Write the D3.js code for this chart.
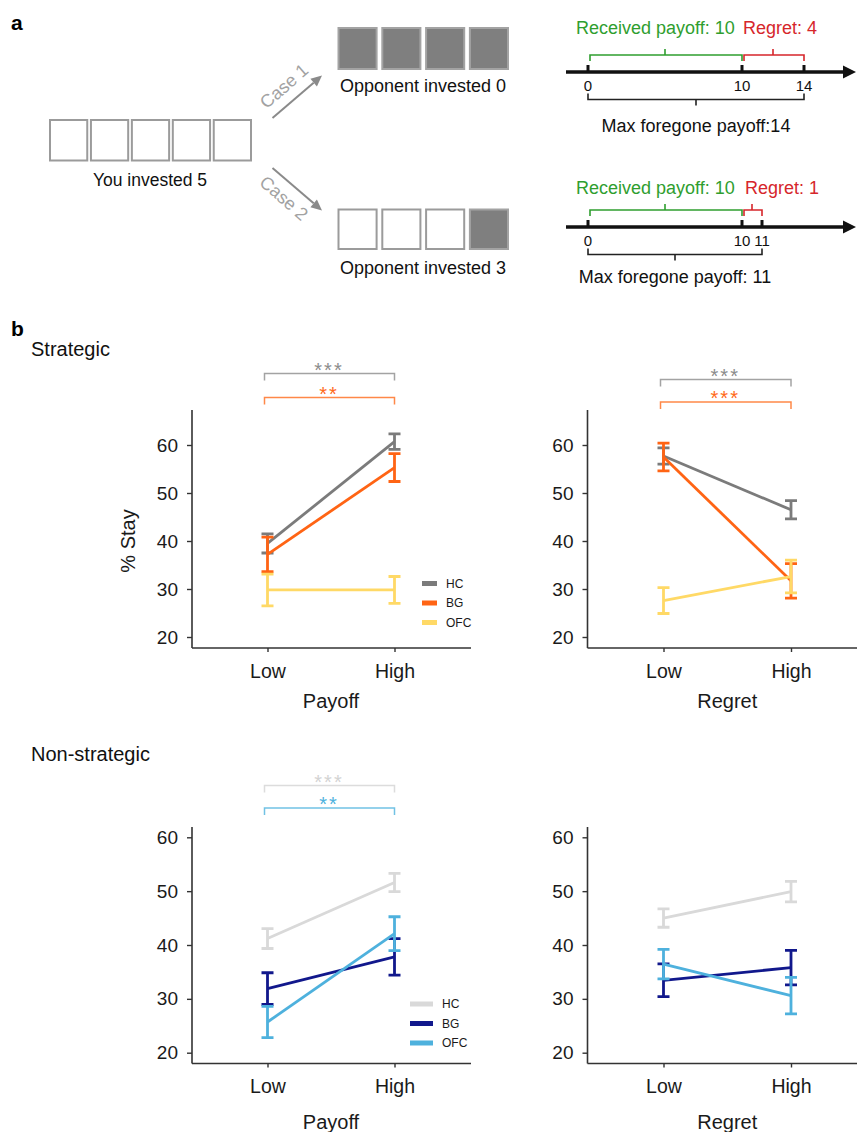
<!DOCTYPE html>
<html>
<head>
<meta charset="utf-8">
<script src="https://cdn.jsdelivr.net/npm/d3@7"></script>
<style>
  body { margin: 0; background: #fff; }
  svg { display: block; font-family: "Liberation Sans", Arial, Helvetica, sans-serif; }
</style>
</head>
<body>
<svg id="fig" width="857" height="1132"></svg>
<script>
// ---------- data ----------
const levels = ["Low", "High"];
const groups = ["HC", "BG", "OFC"];
const yTicks = [20, 30, 40, 50, 60];

// rows: HC, BG, OFC  /  cols: Low, High
const stratPayoffMean = [[39.5, 60.7], [37.2, 55.3], [29.8, 29.8]];
const stratPayoffErr  = [[2.0, 1.6], [3.6, 2.9], [3.3, 2.8]];
const stratRegretMean = [[57.7, 46.5], [57.5, 31.7], [27.6, 32.6]];
const stratRegretErr  = [[1.7, 1.9], [2.9, 3.6], [2.7, 3.4]];
const nonPayoffMean   = [[41.2, 51.6], [31.9, 37.8], [25.7, 42.1]];
const nonPayoffErr    = [[1.85, 1.7], [2.95, 3.4], [2.9, 3.15]];
const nonRegretMean   = [[45.0, 49.9], [33.45, 35.8], [36.45, 30.6]];
const nonRegretErr    = [[1.7, 1.9], [3.05, 3.2], [2.75, 3.4]];

// significance brackets: [stars, group index]
const stratPayoffSig = [["***", 0], ["**", 1]];
const stratRegretSig = [["***", 0], ["***", 1]];
const nonPayoffSig   = [["***", 0], ["**", 2]];

// panel a
const youInvested = 5;
const oppTokens = 4;
const oppInvested = [0, 3];
const received = [10, 10];
const regret = [4, 1];

const stratColors = ["#7b7b7b", "#ff6414", "#ffd966"];
const nonColors = ["#d9d9d9", "#11188c", "#4eb1dd"];
const stratSigColors = ["#8c8c8c", "#ff6a1a"];
const nonSigColors = ["#d3d3d3", "#4eb1dd"];

const svg = d3.select("#fig");
const green = "#2f9e2f", red = "#d6262b";

// ---------- panel a ----------
svg.append("text").attr("x", 11).attr("y", 30).attr("font-size", 21).attr("font-weight", "bold").text("a");

function boxes(n, filledFrom, x0, x1, y0, y1, pad) {
  const xb = d3.scaleBand().domain(d3.range(n)).range([x0, x1]).paddingInner(pad);
  svg.append("g").selectAll("rect").data(d3.range(n)).enter().append("rect")
    .attr("x", d => xb(d)).attr("y", y0)
    .attr("width", xb.bandwidth()).attr("height", y1 - y0)
    .attr("fill", d => d >= filledFrom ? "#7f7f7f" : "#fff")
    .attr("stroke", d => d >= filledFrom ? "#a3a3a3" : "#9b9b9b")
    .attr("stroke-width", 2);
}

boxes(youInvested, youInvested, 50, 251, 120, 160.5, 0.09);
svg.append("text").attr("x", 150).attr("y", 186).attr("text-anchor", "middle")
  .attr("font-size", 17.5).attr("fill", "#111").text(`You invested ${youInvested}`);

const oppLayout = [{ y0: 28, y1: 69, ty: 92 }, { y0: 209.5, y1: 249, ty: 273.5 }];
oppInvested.forEach((inv, i) => {
  const L = oppLayout[i];
  boxes(oppTokens, inv, 338.5, 508, L.y0, L.y1, 0.13);
  svg.append("text").attr("x", 423).attr("y", L.ty).attr("text-anchor", "middle")
    .attr("font-size", 18).attr("fill", "#111").text(`Opponent invested ${inv}`);
});

// case arrows
function arrow(x1, y1, x2, y2, color, width, head, half) {
  const a = Math.atan2(y2 - y1, x2 - x1);
  const bx = x2 - head * Math.cos(a), by = y2 - head * Math.sin(a);
  svg.append("line").attr("x1", x1).attr("y1", y1).attr("x2", bx).attr("y2", by)
    .attr("stroke", color).attr("stroke-width", width);
  const px = -Math.sin(a) * half, py = Math.cos(a) * half;
  svg.append("path").attr("d", `M${x2},${y2}L${bx + px},${by + py}L${bx - px},${by - py}Z`).attr("fill", color);
}
arrow(272.5, 118, 322, 75.5, "#8a8a8a", 2, 11, 5);
arrow(272.5, 168, 322, 210.5, "#8a8a8a", 2, 11, 5);
svg.append("text").attr("transform", "translate(284,86) rotate(-41)").attr("text-anchor", "middle")
  .attr("dy", "0.35em").attr("font-size", 18).attr("fill", "#a2a2a2").text("Case 1");
svg.append("text").attr("transform", "translate(284,198) rotate(41)").attr("text-anchor", "middle")
  .attr("dy", "0.35em").attr("font-size", 18).attr("fill", "#a2a2a2").text("Case 2");

// number lines
const lineLayout = [
  { y: 72, domain: [0, 10, 14], range: [588, 742, 804], recvY: 33.5, regX: 743, maxY: 131.5, sep: "" },
  { y: 227, domain: [0, 10, 11], range: [588, 742, 762], recvY: 193.5, regX: 745, maxY: 282.5, sep: " " }
];
lineLayout.forEach((L, i) => {
  const x = d3.scaleLinear().domain(L.domain).range(L.range);
  const maxPay = received[i] + regret[i];
  const g = svg.append("g");
  arrow(566, L.y, 856, L.y, "#111", 3.5, 13, 6.5);
  g.selectAll(".tk").data(L.domain).enter().append("line")
    .attr("x1", d => x(d)).attr("x2", d => x(d)).attr("y1", L.y - 7).attr("y2", L.y)
    .attr("stroke", "#111").attr("stroke-width", 3);
  g.selectAll(".lb").data(L.domain).enter().append("text")
    .attr("x", d => x(d)).attr("y", L.y + 18.5).attr("text-anchor", "middle")
    .attr("font-size", 15).attr("fill", "#111").text(d => d);
  const brace = (a, b, yb, dir, color) => {
    g.append("path")
      .attr("d", `M${x(a) + (dir > 0 ? 2 : 0)},${yb + 6 * dir}V${yb}H${x(b)}V${yb + 6 * dir}M${(x(a) + x(b)) / 2},${yb}V${yb - 6 * dir}`)
      .attr("fill", "none").attr("stroke", color).attr("stroke-width", 1.6);
  };
  brace(0, received[i], L.y - 17, 1, green);
  brace(received[i], maxPay, L.y - 17, 1, red);
  brace(0, maxPay, L.y + 27.5, -1, "#222");
  g.append("text").attr("x", 576).attr("y", L.recvY).attr("font-size", 18).attr("fill", green)
    .text(`Received payoff: ${received[i]}`);
  g.append("text").attr("x", L.regX).attr("y", L.recvY).attr("font-size", 18).attr("fill", red)
    .text(`Regret: ${regret[i]}`);
  g.append("text").attr("x", (x(0) + x(maxPay)) / 2).attr("y", L.maxY).attr("text-anchor", "middle")
    .attr("font-size", 18).attr("fill", "#111").text(`Max foregone payoff:${L.sep}${maxPay}`);
});

// ---------- panel b ----------
svg.append("text").attr("x", 11).attr("y", 336).attr("font-size", 21).attr("font-weight", "bold").text("b");
svg.append("text").attr("x", 31).attr("y", 355.5).attr("font-size", 20).attr("fill", "#111").text("Strategic");
svg.append("text").attr("x", 31).attr("y", 761).attr("font-size", 20).attr("fill", "#111").text("Non-strategic");

function drawPanel(cfg) {
  const g = svg.append("g");
  const x = d3.scalePoint().domain(levels).range(cfg.xRange);
  const y = d3.scaleLinear().domain([20, 60]).range(cfg.yRange);

  // axes
  g.append("line").attr("x1", cfg.left).attr("x2", cfg.left).attr("y1", cfg.top).attr("y2", cfg.bottom)
    .attr("stroke", "#333").attr("stroke-width", 1.6);
  g.append("line").attr("x1", cfg.left).attr("x2", cfg.right).attr("y1", cfg.bottom).attr("y2", cfg.bottom)
    .attr("stroke", "#333").attr("stroke-width", 1.6);
  const ya = g.append("g").attr("transform", `translate(${cfg.left},0)`)
    .call(d3.axisLeft(y).tickValues(yTicks).tickSize(5).tickPadding(9));
  ya.select(".domain").remove();
  ya.selectAll("line").attr("stroke", "#333").attr("stroke-width", 1.4);
  ya.selectAll("text").attr("font-size", 19).attr("fill", "#1a1a1a").attr("font-family", null);
  const xa = g.append("g").attr("transform", `translate(0,${cfg.bottom})`)
    .call(d3.axisBottom(x).tickSize(4).tickPadding(12));
  xa.select(".domain").remove();
  xa.selectAll("line").attr("stroke", "#333").attr("stroke-width", 1.4);
  xa.selectAll("text").attr("font-size", 19.5).attr("fill", "#1a1a1a").attr("font-family", null);

  g.append("text").attr("x", (x("Low") + x("High")) / 2).attr("y", cfg.bottom + cfg.titleDy)
    .attr("text-anchor", "middle").attr("font-size", 20).attr("fill", "#1a1a1a").text(cfg.title);
  if (cfg.yLabel) {
    g.append("text").attr("transform", `translate(${cfg.left - 57},${(y(20) + y(60)) / 2}) rotate(-90)`)
      .attr("text-anchor", "middle").attr("font-size", 20).attr("fill", "#1a1a1a").text(cfg.yLabel);
  }

  // lines + error bars
  const line = d3.line().x(d => x(d.lv)).y(d => y(d.m));
  groups.forEach((grp, i) => {
    const pts = levels.map((lv, j) => ({ lv, m: cfg.means[i][j], e: cfg.errs[i][j] }));
    g.append("path").datum(pts).attr("d", line).attr("fill", "none")
      .attr("stroke", cfg.colors[i]).attr("stroke-width", 2.8);
    const eb = g.append("g").attr("stroke", cfg.colors[i]).attr("stroke-width", 2.8).attr("fill", "none");
    eb.selectAll("path").data(pts).enter().append("path")
      .attr("d", d => {
        const cx = x(d.lv), hi = y(d.m + d.e), lo = y(d.m - d.e);
        return `M${cx},${hi}V${lo}M${cx - 6},${hi}H${cx + 6}M${cx - 6},${lo}H${cx + 6}`;
      });
  });

  // significance brackets
  (cfg.sig || []).forEach((s, k) => {
    const yb = cfg.sigY[k];
    g.append("path")
      .attr("d", `M${x("Low") - 3},${yb + 7}V${yb}H${x("High")}V${yb + 7}`)
      .attr("fill", "none").attr("stroke", cfg.sigColors[k]).attr("stroke-width", 1.5).attr("opacity", 0.8);
    g.append("text").attr("x", (x("Low") + x("High")) / 2 - 2).attr("y", yb + 3)
      .attr("text-anchor", "middle").attr("font-size", 20).attr("letter-spacing", 2)
      .attr("fill", cfg.sigColors[k]).text(s[0]);
  });

  // legend
  if (cfg.legend) {
    const lg = g.append("g").attr("transform", `translate(${cfg.legend.x},${cfg.legend.y})`);
    groups.forEach((grp, i) => {
      lg.append("line").attr("x1", 0).attr("x2", cfg.legend.w).attr("y1", i * 19.5).attr("y2", i * 19.5)
        .attr("stroke", cfg.colors[i]).attr("stroke-width", 5);
      lg.append("text").attr("x", cfg.legend.w + 9).attr("y", i * 19.5).attr("dy", "0.36em")
        .attr("font-size", 12).attr("fill", "#1a1a1a").text(grp);
    });
  }
}

const stratLayout = { top: 410, bottom: 648, yRange: [637, 445], titleDy: 60 };
const nonLayout = { top: 827, bottom: 1063.5, yRange: [1052.7, 837.3], titleDy: 65 };

drawPanel(Object.assign({}, stratLayout, {
  left: 192, right: 471, xRange: [267.5, 394.5], means: stratPayoffMean, errs: stratPayoffErr,
  colors: stratColors, title: "Payoff", yLabel: "% Stay",
  sig: stratPayoffSig, sigY: [373.5, 397.5], sigColors: stratSigColors,
  legend: { x: 422, y: 583.5, w: 15 }
}));
drawPanel(Object.assign({}, stratLayout, {
  left: 587.5, right: 860, xRange: [663.5, 791], means: stratRegretMean, errs: stratRegretErr,
  colors: stratColors, title: "Regret",
  sig: stratRegretSig, sigY: [379.5, 402], sigColors: stratSigColors
}));
drawPanel(Object.assign({}, nonLayout, {
  left: 192, right: 471, xRange: [267.5, 394.5], means: nonPayoffMean, errs: nonPayoffErr,
  colors: nonColors, title: "Payoff",
  sig: nonPayoffSig, sigY: [785.5, 808], sigColors: nonSigColors,
  legend: { x: 410, y: 1004, w: 23 }
}));
drawPanel(Object.assign({}, nonLayout, {
  left: 587.5, right: 860, xRange: [663.5, 791], means: nonRegretMean, errs: nonRegretErr,
  colors: nonColors, title: "Regret"
}));
</script>
</body>
</html>
